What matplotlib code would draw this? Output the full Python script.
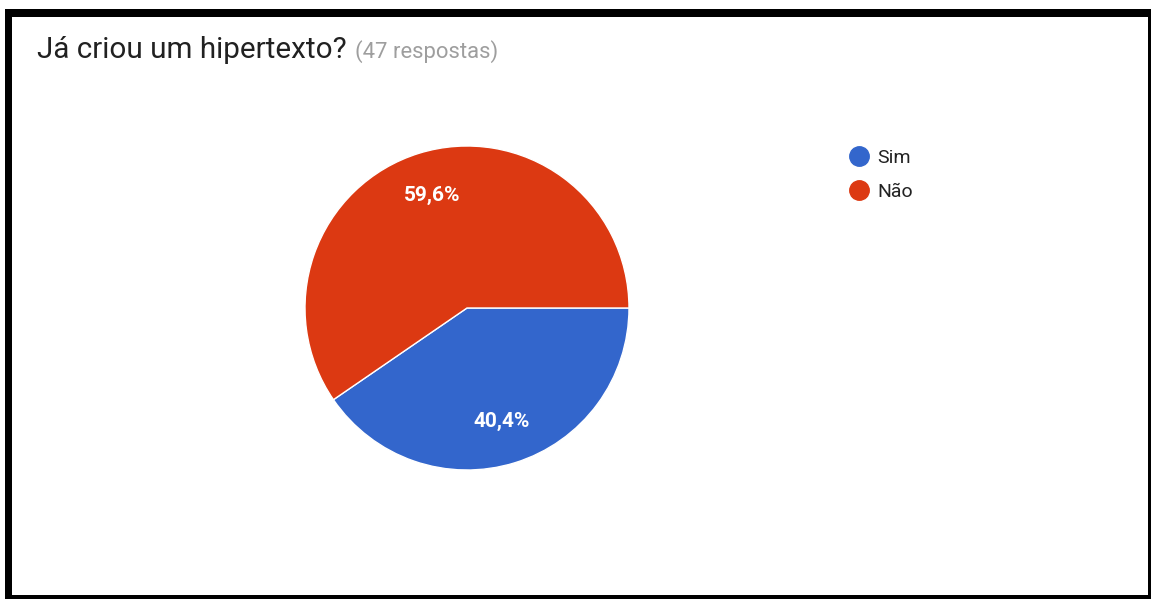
import matplotlib
matplotlib.use("Agg")
import matplotlib.pyplot as plt
from matplotlib.patches import Rectangle
from matplotlib.lines import Line2D

categories = ["Sim", "Não"]
counts = [19, 28]
colors = ["#3366CC", "#DC3912"]
title = "Já criou um hipertexto?"
subtitle = "(47 respostas)"

plt.rcParams['font.family'] = ['Roboto', 'DejaVu Sans']

W, H = 1151, 599
fig = plt.figure(figsize=(W / 100, H / 100), dpi=100)
fig.patch.set_facecolor("white")

def fx(px):
    return px / W

def fy(py):
    return 1 - py / H

# border frame
fig.patches.append(Rectangle((fx(5), fy(599)), fx(1151 - 5), 590 / H,
                             transform=fig.transFigure, facecolor="black",
                             edgecolor="none", zorder=-3))
fig.patches.append(Rectangle((fx(12), fy(595)), fx(1148 - 12), (595 - 17) / H,
                             transform=fig.transFigure, facecolor="white",
                             edgecolor="none", zorder=-2))

# title
fig.text(fx(37), fy(58), title, fontsize=21.3, color="#212121",
         ha="left", va="baseline")
fig.text(fx(355), fy(58), subtitle, fontsize=15.8, color="#9e9e9e",
         ha="left", va="baseline")

# pie
cx, cy, r = 467, 308, 162
ax = fig.add_axes([fx(cx - r), fy(cy + r), 2 * r / W, 2 * r / H])
wedges, texts, autotexts = ax.pie(
    counts, colors=colors, startangle=0, counterclock=False,
    autopct=lambda p: f"{p:.1f}%".replace(".", ","), pctdistance=0.73,
    wedgeprops=dict(edgecolor="white", linewidth=1.0),
    textprops=dict(color="white", fontsize=15, fontweight="bold"))
ax.set_xlim(-1, 1)
ax.set_ylim(-1, 1)
ax.axis("off")

# legend
handles = [Line2D([0], [0], marker="o", linestyle="none", markersize=14,
                  markerfacecolor=c, markeredgecolor=c) for c in colors]
leg = fig.legend(handles, categories, loc="upper left",
                 bbox_to_anchor=(fx(847), fy(149)), frameon=False,
                 fontsize=14, handletextpad=0.35, labelspacing=0.8,
                 borderaxespad=0, borderpad=0, handlelength=1.2)
for t in leg.get_texts():
    t.set_color("#222222")

fig.savefig("out.png", dpi=100, facecolor="white")
